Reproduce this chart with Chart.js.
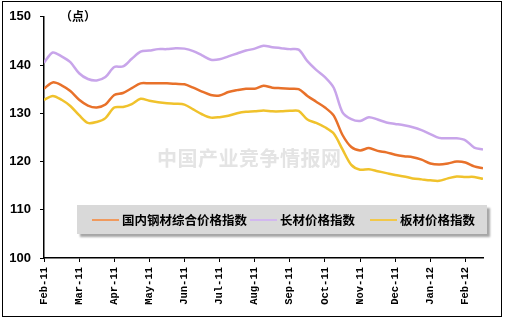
<!DOCTYPE html>
<html>
<head>
<meta charset="utf-8">
<script src="https://cdn.jsdelivr.net/npm/chart.js@4"></script>
<style>
  body { margin:0; background:#fff; }
  #wrap { position:relative; width:505px; height:319px; }
  #frame { position:absolute; left:2px; top:1px; width:498px; height:314px; border:1px solid #000; pointer-events:none; }
  .lbl { position:absolute; font-family:'Noto Sans CJK SC',sans-serif; font-weight:700; white-space:nowrap; }
  #unit { left:60px; top:7px; font-size:12px; color:#000; }
  #mark { left:157px; top:143px; font-size:20px; color:#e4e4e4; letter-spacing:0.5px; }
  #legend { position:absolute; left:77px; top:205px; width:410px; height:29px; background:#d9d9d9; box-shadow:3px 3px 2px #a6a6a6; }
  .item { position:absolute; top:0; height:29px; display:flex; align-items:center; font-family:'Noto Sans CJK SC',sans-serif; font-weight:700; font-size:12.5px; color:#000; }
  .swatch { width:27px; height:2px; margin-right:3px; }
</style>
</head>
<body>
<div id="wrap">
  <canvas id="c" width="505" height="319"></canvas>
  <div class="lbl" id="mark">中国产业竞争情报网</div>
  <div class="lbl" id="unit">（点）</div>
  <div id="legend"></div>
  <div id="frame"></div>
</div>
<script>
const C = { composite:'#e8712a', long:'#c8a5ea', plate:'#f0c22c' }

// month tick labels, one per month starting Feb-11
const months = ['Feb-11','Mar-11','Apr-11','May-11','Jun-11','Jul-11','Aug-11','Sep-11','Oct-11','Nov-11','Dec-11','Jan-12','Feb-12']
// readings roughly once a week (quarter month apart)
const STEP = 0.25
const seriesNames = ['国内钢材综合价格指数','长材价格指数','板材价格指数']

const composite = [
  135.1,136.4,135.8,134.6,132.8,131.6,131.2,131.8,133.8,134.2,135.2,136.2,136.2,136.2,136.2,136.1,
  136.0,135.3,134.5,133.8,133.7,134.4,134.8,135.1,135.1,135.7,135.3,135.2,135.1,135.0,133.6,132.4,
  131.2,129.5,125.5,123.0,122.3,122.8,122.2,121.9,121.4,121.1,120.9,120.4,119.6,119.4,119.6,120.0,
  119.8,119.0,118.6
]
const longProducts = [
  140.5,142.6,141.8,140.6,138.3,137.1,136.8,137.5,139.6,139.7,141.3,142.8,143.0,143.3,143.3,143.5,
  143.4,142.9,142.0,141.1,141.2,141.8,142.4,143.0,143.4,144.0,143.7,143.5,143.3,143.2,140.8,139.0,
  137.5,135.3,130.2,128.8,128.4,129.2,128.7,128.1,127.8,127.5,127.1,126.5,125.7,124.9,124.8,124.8,
  124.4,122.9,122.5
]
const plates = [
  132.8,133.6,132.8,131.5,129.6,128.0,128.2,129.0,131.2,131.3,131.9,133.0,132.6,132.3,132.1,132.0,
  131.8,130.8,129.8,129.1,129.2,129.5,130.0,130.3,130.4,130.6,130.4,130.4,130.5,130.5,128.7,128.0,
  127.1,125.8,122.5,119.3,118.3,118.4,118.0,117.6,117.2,116.9,116.5,116.3,116.1,116.0,116.5,116.9,
  116.8,116.8,116.4
]

const pts = arr => arr.map((v,i)=>({x:i*STEP, y:v}))
const ds = (label, arr, color) => ({ label, data:pts(arr), borderColor:color, backgroundColor:color, borderWidth:2.5, pointRadius:0, tension:0.3, fill:false })

new Chart(document.getElementById('c'), {
  type:'line',
  data:{ datasets:[
    ds(seriesNames[0], composite, C.composite),
    ds(seriesNames[1], longProducts, C.long),
    ds(seriesNames[2], plates, C.plate),
  ]},
  options:{
    responsive:false, animation:false, devicePixelRatio:1,
    layout:{ padding:{ left:0, top:16, right:22, bottom:0 } },
    plugins:{ legend:{display:false}, tooltip:{enabled:false} },
    scales:{
      x:{
        type:'linear', min:0, max:12.5,
        afterFit: s => { s.height = 61 },
        border:{ display:true, color:'#000', width:1.5 },
        grid:{ display:true, drawOnChartArea:false, color:'#000', tickLength:4 },
        ticks:{ stepSize:1, includeBounds:false, autoSkip:false, minRotation:90, maxRotation:90, padding:5,
          color:'#000', font:{ family:'Liberation Mono', size:10.5, weight:'bold' },
          callback: v => months[v] ?? '' }
      },
      y:{
        min:100, max:150,
        afterFit: s => { s.width = 44 },
        border:{ display:true, color:'#000', width:1.5 },
        grid:{ display:true, drawOnChartArea:false, color:'#000', tickLength:4 },
        ticks:{ stepSize:10, padding:9, color:'#000', font:{ family:'Liberation Sans', size:13, weight:'bold' } }
      }
    }
  }
})

// legend box drawn as html on top of the plot
const legend = document.getElementById('legend')
const legendItems = [
  { name:seriesNames[0], color:'#f09a5e', left:15 },
  { name:seriesNames[1], color:'#d2b8ef', left:173 },
  { name:seriesNames[2], color:'#f2c84a', left:293 },
]
legendItems.forEach(it => {
  const d = document.createElement('div')
  d.className = 'item'
  d.style.left = it.left + 'px'
  d.innerHTML = `<span class="swatch" style="background:${it.color}"></span>${it.name}`
  legend.appendChild(d)
})
</script>
</body>
</html>
